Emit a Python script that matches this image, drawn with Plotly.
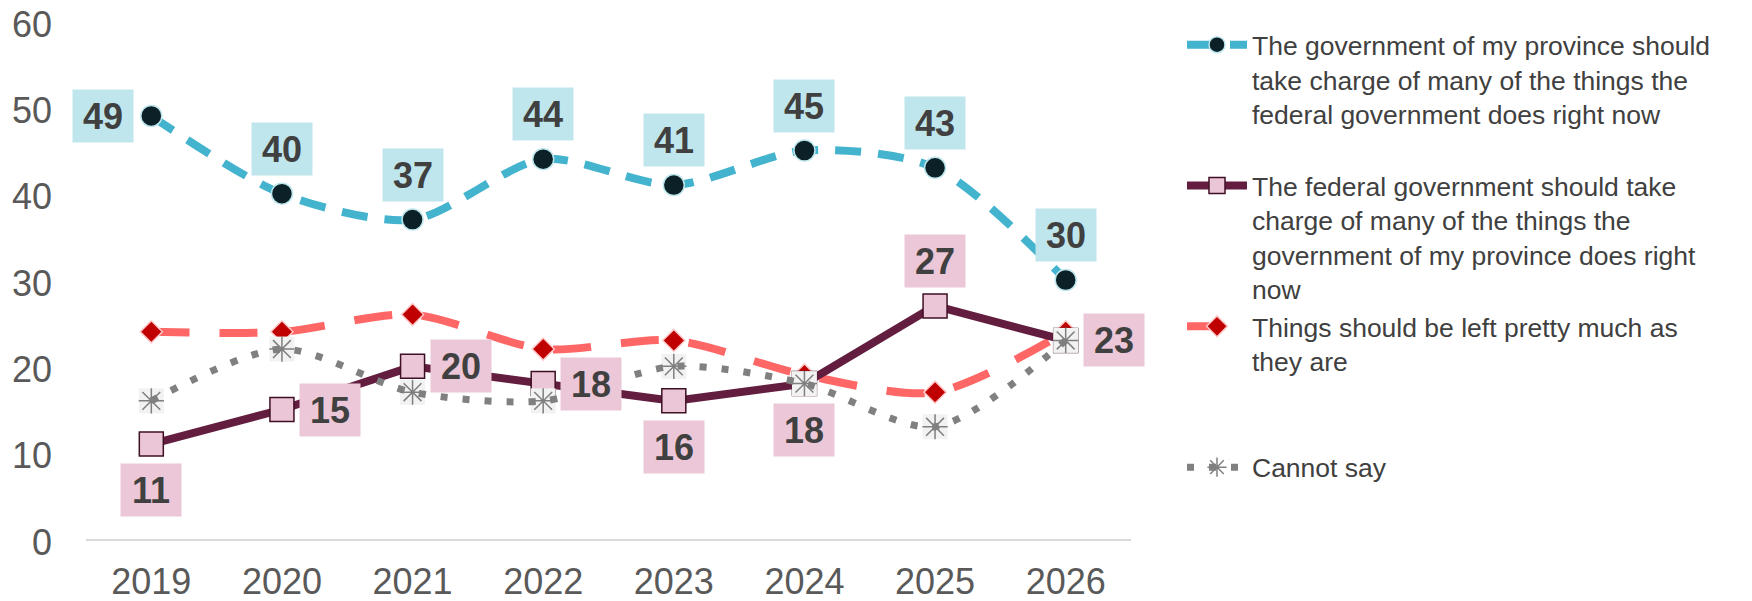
import plotly.graph_objects as go

years = ["2019", "2020", "2021", "2022", "2023", "2024", "2025", "2026"]
province = [49, 40, 37, 44, 41, 45, 43, 30]
federal = [11, 15, 20, 18, 16, 18, 27, 23]
left_as_is = [24, 24, 26, 22, 23, 19, 17, 24]
cannot_say = [16, 22, 17, 16, 20, 18, 13, 23]

names = [
    "The government of my province should<br>take charge of many of the things the<br>federal government does right now",
    "The federal government should take<br>charge of many of the things the<br>government of my province does right<br>now",
    "Things should be left pretty much as<br>they are",
    "Cannot say",
]
province_pos = ["left", "up", "up", "up", "up", "up", "up", "up"]
federal_pos = ["down", "right", "right", "right", "down", "down", "up", "right"]

FONT = "Liberation Sans, Arial, sans-serif"
xi = list(range(len(years)))

fig = go.Figure()

def pad(name, n=4):
    lines = name.count("<br>") + 1
    return name + "<br> " * (n - lines)

fig.add_trace(go.Scatter(
    x=xi, y=province, name=pad(names[0]), mode="lines+markers",
    line=dict(color="#43B3CE", width=8, dash="26px,17px", shape="spline", smoothing=0.8),
    marker=dict(symbol="circle", size=21, color="#0B2027", line=dict(color="#BDE6ED", width=1.5)),
    legendgroup="a", legendrank=1,
))
fig.add_trace(go.Scatter(
    x=xi, y=left_as_is, name=pad(names[2]), mode="lines+markers",
    line=dict(color="#FF6666", width=8, dash="38px,30px", shape="spline", smoothing=0.8),
    marker=dict(symbol="diamond", size=17, color="#C00000", line=dict(color="#FFC7C7", width=1.5)),
    legendgroup="c", legendrank=3,
))
fig.add_trace(go.Scatter(
    x=xi, y=federal, name=pad(names[1]), mode="lines+markers",
    line=dict(color="#631D3F", width=8),
    marker=dict(symbol="square", size=24, color="#EBC6D6", line=dict(color="#3F0F25", width=1.5)),
    legendgroup="b", legendrank=2,
))
fig.add_trace(go.Scatter(
    x=xi, y=cannot_say, mode="markers", showlegend=False,
    marker=dict(symbol="square", size=25, color="#F2F2F2"),
    legendgroup="d",
))
fig.add_trace(go.Scatter(
    x=xi, y=cannot_say, name=names[3], mode="lines+markers",
    line=dict(color="#808080", width=7, dash="7px,15px", shape="spline", smoothing=0.8),
    marker=dict(symbol="asterisk-open", size=21, color="#7F7F7F", line=dict(color="#7F7F7F", width=1.5)),
    legendgroup="d", legendrank=4,
))

shift = {"left": (-48, 0), "right": (48, 0), "up": (0, 45), "down": (0, -46)}

annotations = []

def add_labels(vals, poss, bg):
    for x, v, p in zip(xi, vals, poss):
        dx, dy = shift[p]
        annotations.append(dict(
            x=x, y=v, xref="x", yref="y", text="<b>" + str(v) + "</b>", showarrow=False,
            xshift=dx, yshift=dy, width=58, height=50,
            bgcolor=bg, font=dict(family=FONT, size=36, color="#404040"),
        ))

add_labels(province, province_pos, "#BFE6ED")
add_labels(federal, federal_pos, "#ECC7D8")

fig.update_layout(
    width=1744, height=593,
    annotations=annotations,
    margin=dict(l=78, r=621, t=13, b=62, autoexpand=False),
    plot_bgcolor="white", paper_bgcolor="white",
    font=dict(family=FONT, color="#595959"),
    legend=dict(
        x=1.0488, y=1.0, xanchor="left", yanchor="top",
        font=dict(family=FONT, size=26.5, color="#404040"),
        valign="top", itemwidth=60, tracegroupgap=0,
        traceorder="normal",
    ),
    xaxis=dict(
        showgrid=False, showline=True, linecolor="#D9D9D9", linewidth=2,
        tickfont=dict(size=36, color="#595959"), ticklabelstandoff=10,
        range=[-0.5, 7.5], tickvals=xi, ticktext=years, zeroline=False, automargin=False,
        ticklabeloverflow="allow",
    ),
    yaxis=dict(
        range=[0, 60], dtick=10, showgrid=False, zeroline=False, showline=False,
        tickfont=dict(size=36, color="#595959"), ticklabelstandoff=33, automargin=False,
        ticklabeloverflow="allow", ticklabelshift=3,
    ),
)

fig.write_html("out.html")
